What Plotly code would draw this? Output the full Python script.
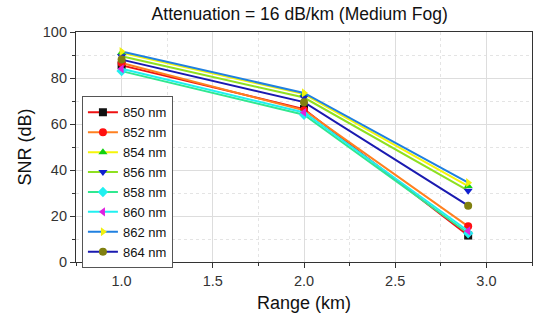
import plotly.graph_objects as go

ranges = [1.0, 2.0, 2.9]
names = ["850 nm", "852 nm", "854 nm", "856 nm", "858 nm", "860 nm", "862 nm", "864 nm"]
snr_850 = [85.5, 66.5, 11.5]
snr_852 = [86.5, 66.0, 15.5]
snr_854 = [91.0, 73.0, 33.0]
snr_856 = [89.5, 71.5, 31.0]
snr_858 = [83.0, 64.0, 12.5]
snr_860 = [84.0, 65.0, 13.5]
snr_862 = [91.5, 73.5, 34.5]
snr_864 = [88.0, 69.5, 24.5]
series = [snr_850, snr_852, snr_854, snr_856, snr_858, snr_860, snr_862, snr_864]

line_colors = ["#ee1111", "#ff8020", "#f5f50a", "#8ee020", "#30e890", "#20f0f0", "#2080e0", "#1a1ab0"]
marker_colors = ["#111111", "#ff1010", "#10d010", "#1020d0", "#20f0f0", "#e020e0", "#f0f010", "#808010"]
symbols = ["square", "circle", "triangle-up", "triangle-down", "diamond", "triangle-left", "triangle-right", "circle"]

FONT = "Liberation Sans, Arial"

fig = go.Figure()
for n, y, lc, mc, s in zip(names, series, line_colors, marker_colors, symbols):
    fig.add_trace(go.Scatter(
        x=ranges, y=y, name=n, mode="lines+markers",
        line=dict(color=lc, width=2),
        marker=dict(color=mc, symbol=s, size=8, line=dict(width=0)),
    ))

axis_common = dict(
    showline=True, linecolor="#333", linewidth=1.2, mirror=True,
    ticks="outside", ticklen=5, tickcolor="#333",
    showgrid=True, gridcolor="#dddddd", gridwidth=1,
    zeroline=False,
    tickfont=dict(family=FONT, size=14.5, color="#333"),
)

fig.update_xaxes(
    range=[0.75, 3.25], tickvals=[1.0, 1.5, 2.0, 2.5, 3.0],
    ticktext=["1.0", "1.5", "2.0", "2.5", "3.0"],
    minor=dict(dtick=0.25, tick0=0, ticks="outside", ticklen=3, tickcolor="#333",
               showgrid=True, gridcolor="#e4e4e4", griddash="dot"),
    title=dict(text="Range (km)", font=dict(family=FONT, size=18, color="#111"), standoff=8),
    **axis_common,
)
fig.update_yaxes(
    range=[0, 100], dtick=20,
    minor=dict(dtick=10, ticks="outside", ticklen=3, tickcolor="#333",
               showgrid=True, gridcolor="#e4e4e4", griddash="dot"),
    title=dict(text="SNR (dB)", font=dict(family=FONT, size=18, color="#111"), standoff=6),
    **axis_common,
)

fig.update_layout(
    width=540, height=321,
    margin=dict(l=76, r=8, t=32, b=59),
    paper_bgcolor="white", plot_bgcolor="white",
    title=dict(text="Attenuation = 16 dB/km (Medium Fog)", x=0.555, xanchor="center", y=0.975, yanchor="top",
               font=dict(family=FONT, size=17.5, color="#111")),
    legend=dict(x=0.013, y=0.72, xanchor="left", yanchor="top",
                bgcolor="white", bordercolor="#555", borderwidth=1,
                font=dict(family=FONT, size=13, color="#111"),
                tracegroupgap=0, itemwidth=30),
    showlegend=True,
)

fig.write_html("out.html")
